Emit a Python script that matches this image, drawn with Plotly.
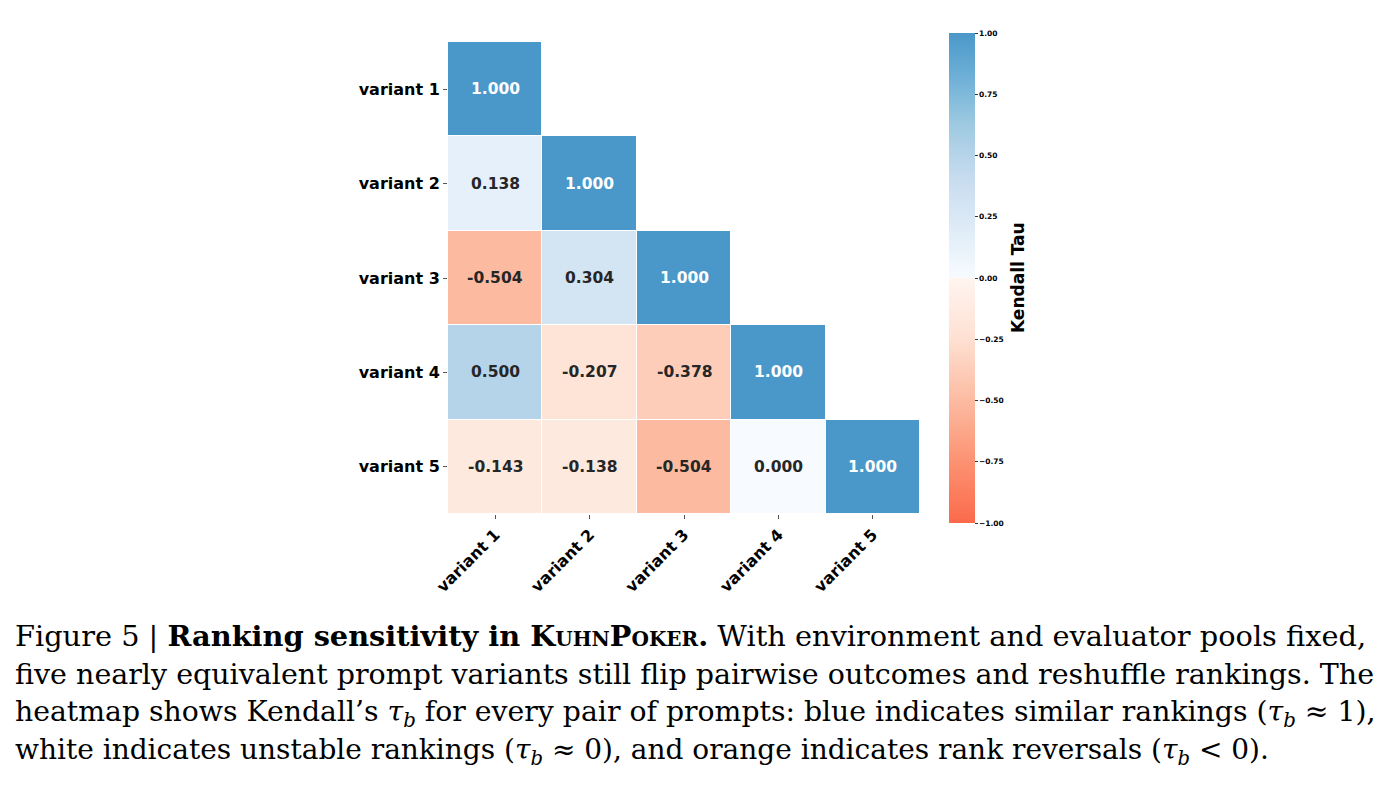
import plotly.graph_objects as go

variants = ["variant 1", "variant 2", "variant 3", "variant 4", "variant 5"]
# lower-triangular Kendall tau matrix (None = masked)
row1 = [1.000, None, None, None, None]
row2 = [0.138, 1.000, None, None, None]
row3 = [-0.504, 0.304, 1.000, None, None]
row4 = [0.500, -0.207, -0.378, 1.000, None]
row5 = [-0.143, -0.138, -0.504, 0.000, 1.000]
tau = [row1, row2, row3, row4, row5]
cbar_ticks = [-1.0, -0.75, -0.5, -0.25, 0.0, 0.25, 0.5, 0.75, 1.0]

W, H = 1390, 799
px = lambda x: x / W
py = lambda y: 1 - y / H

colorscale = [
    [0.0, "#fb6a4a"], [0.125, "#fc9272"], [0.25, "#fcbba1"], [0.375, "#fee0d2"],
    [0.4999, "#fff5f0"], [0.5, "#f7fbff"],
    [0.5 + 0.2083 / 2, "#deebf7"], [0.5 + 0.4167 / 2, "#c6dbef"],
    [0.5 + 0.625 / 2, "#9ecae1"], [0.5 + 0.8333 / 2, "#6baed6"], [1.0, "#4a98c9"],
]

fig = go.Figure()
fig.add_trace(go.Heatmap(
    z=tau, x=variants, y=variants, zmin=-1, zmax=1, colorscale=colorscale,
    xgap=1, ygap=1, hoverongaps=False,
    colorbar=dict(
        x=px(949), xanchor="left", xref="paper",
        y=py(278), yanchor="middle", yref="paper",
        len=490, lenmode="pixels", thickness=26, thicknessmode="pixels",
        xpad=0, ypad=0,
        outlinewidth=0, tickvals=cbar_ticks, tickformat=".2f",
        ticks="outside", ticklen=3, tickcolor="#333",
        tickfont=dict(family="DejaVu Sans", size=7.5, color="black", weight="bold"),
        title=dict(text=""),
    ),
))

ann = []
for i, row in enumerate(tau):
    for j, v in enumerate(row):
        if v is None:
            continue
        ann.append(dict(
            x=variants[j], y=variants[i], xref="x", yref="y", showarrow=False,
            text=f"{v:.3f}",
            font=dict(family="DejaVu Sans", size=15.5, weight="bold",
                      color="white" if v > 0.8 else "#262626"),
        ))

ann.append(dict(x=px(1018), y=py(278), xref="paper", yref="paper", showarrow=False,
                xanchor="center", yanchor="middle",
                text="Kendall Tau", textangle=-90,
                font=dict(family="DejaVu Sans", size=17, weight="bold", color="black")))

sc = "font-size:20px"
caption = [
    "Figure 5 | <b>Ranking sensitivity in K<span style='%s'>UHN</span>P<span style='%s'>OKER</span>.</b> With environment and evaluator pools fixed," % (sc, sc),
    "five nearly equivalent prompt variants still flip pairwise outcomes and reshuffle rankings. The",
    "heatmap shows Kendall’s <i>τ<sub>b</sub></i> for every pair of prompts: blue indicates similar rankings (<i>τ<sub>b</sub></i> ≈ 1),",
    "white indicates unstable rankings (<i>τ<sub>b</sub></i> ≈ 0), and orange indicates rank reversals (<i>τ<sub>b</sub></i> &lt; 0).",
]
line_y = [636, 674, 713, 751]
line_size = [28.8, 28.5, 28.3, 28]
for t, yy, fs in zip(caption, line_y, line_size):
    ann.append(dict(x=px(13), y=py(yy), xref="paper", yref="paper", showarrow=False,
                    xanchor="left", yanchor="middle", text=t,
                    font=dict(family="DejaVu Serif", size=fs, color="black")))

fig.update_layout(
    width=W, height=H, margin=dict(l=0, r=0, t=0, b=0, autoexpand=False),
    paper_bgcolor="white", plot_bgcolor="white",
    annotations=ann,
    xaxis=dict(domain=[px(448), px(920)], showgrid=False, zeroline=False,
               showline=False, ticks="outside", ticklen=4, tickcolor="#555",
               tickangle=-45, automargin=False,
               tickfont=dict(family="DejaVu Sans", size=16, color="black", weight="bold")),
    yaxis=dict(domain=[py(514), py(42)], showgrid=False, zeroline=False,
               showline=False, ticks="outside", ticklen=4, tickcolor="#555",
               autorange="reversed", automargin=False,
               tickfont=dict(family="DejaVu Sans", size=16, color="black", weight="bold")),
)

fig.write_html("out.html")
